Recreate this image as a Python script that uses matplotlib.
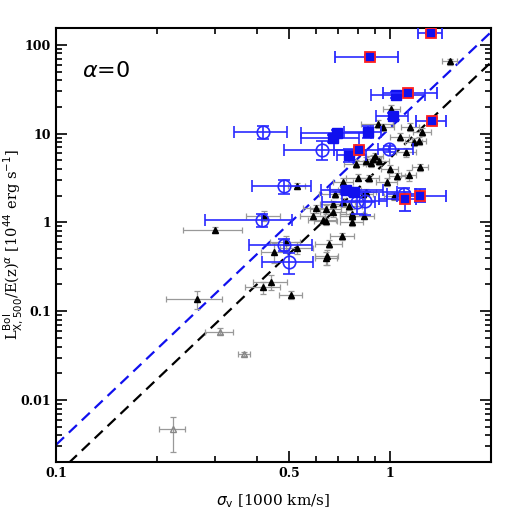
import numpy as np
import matplotlib
matplotlib.use("Agg")
import matplotlib.pyplot as plt
from matplotlib.ticker import FixedLocator, NullFormatter, LogLocator

# black triangles (sigma_v, L, xerr, yerr)
tri_x = [1.51, 1.01, 0.92, 0.95, 1.15, 1.25, 1.07, 1.18, 1.22, 1.12,
         0.79, 0.85, 0.89, 0.90, 0.93, 0.88, 1.00, 1.23, 1.14, 1.05,
         0.80, 0.98, 0.525, 0.724, 0.866, 0.716, 0.76, 0.685, 0.847, 1.03,
         0.724, 0.676, 0.645, 0.676, 0.60, 0.63, 0.643, 0.588, 0.77, 0.77,
         0.77, 0.836, 0.756, 0.42, 0.30, 0.72, 0.487, 0.528, 0.45, 0.658,
         0.648, 0.645, 0.44, 0.417, 0.505, 0.264, 0.83]
tri_y = [65, 19, 12.8, 11.8, 12.0, 10.5, 9.2, 8.1, 8.3, 6.2,
         4.6, 4.95, 5.2, 5.55, 4.95, 4.7, 4.0, 4.2, 3.4, 3.3,
         3.2, 2.85, 2.55, 2.87, 3.13, 2.37, 2.33, 2.07, 2.18, 2.0,
         1.68, 1.61, 1.41, 1.30, 1.44, 1.07, 1.03, 1.17, 1.26, 1.17,
         1.02, 1.19, 1.54, 1.19, 0.82, 0.70, 0.595, 0.52, 0.47, 0.57,
         0.414, 0.40, 0.214, 0.185, 0.153, 0.137, 2.08]
tri_xe = [0.08, 0.06, 0.10, 0.08, 0.07, 0.08, 0.07, 0.07, 0.06, 0.08,
          0.06, 0.06, 0.05, 0.05, 0.06, 0.05, 0.06, 0.07, 0.06, 0.06,
          0.06, 0.07, 0.03, 0.05, 0.06, 0.06, 0.06, 0.07, 0.06, 0.07,
          0.06, 0.06, 0.07, 0.06, 0.05, 0.06, 0.05, 0.05, 0.06, 0.06,
          0.06, 0.06, 0.07, 0.05, 0.06, 0.06, 0.05, 0.06, 0.04, 0.06,
          0.05, 0.05, 0.05, 0.05, 0.04, 0.05, 0.06]
tri_ye = [5, 2, 1.3, 1.2, 1.2, 1.0, 1.0, 0.8, 0.8, 0.7,
          0.5, 0.5, 0.5, 0.5, 0.5, 0.5, 0.4, 0.4, 0.5, 0.3,
          0.3, 0.3, 0.2, 0.3, 0.3, 0.2, 0.2, 0.2, 0.2, 0.2,
          0.2, 0.15, 0.15, 0.15, 0.15, 0.1, 0.1, 0.1, 0.15, 0.1,
          0.12, 0.1, 0.15, 0.15, 0.06, 0.06, 0.1, 0.08, 0.12, 0.06,
          0.08, 0.07, 0.04, 0.03, 0.015, 0.03, 0.2]

# gray open triangles
gtri_x = [0.309, 0.366, 0.224]
gtri_y = [0.059, 0.033, 0.0047]
gtri_xe = [0.03, 0.015, 0.02]
gtri_ylo = [0.004, 0.002, 0.0021]
gtri_yhi = [0.005, 0.002, 0.0018]

# blue open circles
circ_x = [0.417, 0.627, 0.993, 0.482, 0.794, 0.84, 1.10, 0.415, 0.483, 0.499]
circ_y = [10.4, 6.6, 6.7, 2.55, 1.71, 1.75, 2.08, 1.06, 0.555, 0.354]
circ_xlo = [0.075, 0.147, 0.073, 0.095, 0.17, 0.12, 0.12, 0.136, 0.104, 0.086]
circ_xhi = [0.073, 0.163, 0.177, 0.098, 0.11, 0.14, 0.10, 0.095, 0.101, 0.089]
circ_ylo = [1.6, 1.6, 0.5, 0.45, 0.45, 0.55, 0.3, 0.18, 0.08, 0.09]
circ_yhi = [1.9, 1.6, 0.5, 0.45, 0.4, 0.45, 0.35, 0.19, 0.1, 0.1]

# blue filled squares
sq_x = [1.04, 1.02, 0.693, 0.676, 0.857, 0.755, 0.74, 0.78]
sq_y = [27.2, 15.7, 10.1, 8.9, 10.5, 5.8, 2.3, 2.2]
sq_xlo = [0.16, 0.11, 0.153, 0.136, 0.127, 0.06, 0.12, 0.12]
sq_xhi = [0.23, 0.11, 0.187, 0.134, 0.083, 0.09, 0.21, 0.27]
sq_ylo = [2.0, 1.2, 0.8, 0.8, 1.5, 1.0, 0.2, 0.2]
sq_yhi = [2.0, 1.2, 0.8, 0.8, 1.7, 1.0, 0.2, 0.2]

# blue squares with red edge
rsq_x = [1.324, 0.869, 1.13, 1.34, 0.809, 1.11, 1.23]
rsq_y = [136, 73.6, 28.5, 14.0, 6.5, 1.83, 2.0]
rsq_xlo = [0.114, 0.185, 0.18, 0.14, 0.13, 0.18, 0.18]
rsq_xhi = [0.106, 0.186, 0.25, 0.13, 0.19, 0.09, 0.24]
rsq_ylo = [5, 4, 2, 1.0, 0.6, 0.5, 0.3]
rsq_yhi = [5, 4, 2, 1.0, 0.6, 0.4, 0.4]

# fit lines L = A * sigma^B
fit_slope = 3.57
fit_norm_black = 5.3
fit_norm_blue = 11.6

fig = plt.figure(figsize=(5.18, 5.18), dpi=100)
ax = fig.add_axes([0.108, 0.108, 0.839, 0.838])

xs = np.array([0.1, 2.0])
ax.plot(xs, fit_norm_black * xs ** fit_slope, color="black", ls=(0, (5, 3)), lw=1.6, zorder=2)
ax.plot(xs, fit_norm_blue * xs ** fit_slope, color="#1010ee", ls=(0, (5, 3)), lw=1.6, zorder=2)

ax.errorbar(tri_x, tri_y, xerr=tri_xe, yerr=tri_ye, fmt="^", ms=4.2, color="black",
            ecolor="#999999", elinewidth=0.9, capsize=2.5, capthick=0.9, zorder=3)
ax.errorbar(gtri_x, gtri_y, xerr=gtri_xe, yerr=[gtri_ylo, gtri_yhi], fmt="^", ms=4,
            mfc="none", mec="#888888", ecolor="#999999", elinewidth=0.9, capsize=2.5,
            capthick=0.9, zorder=3)
ax.errorbar(circ_x, circ_y, xerr=[circ_xlo, circ_xhi], yerr=[circ_ylo, circ_yhi], fmt="o",
            ms=9, mfc="none", mec="#2a2aff", mew=1.2, ecolor="#2a2aff", elinewidth=1.2,
            capsize=4, capthick=1.2, zorder=4)
ax.errorbar(sq_x, sq_y, xerr=[sq_xlo, sq_xhi], yerr=[sq_ylo, sq_yhi], fmt="s", ms=6.5,
            mfc="#1010ee", mec="#1010ee", ecolor="#2a2aff", elinewidth=1.2,
            capsize=4, capthick=1.2, zorder=4)
ax.errorbar(rsq_x, rsq_y, xerr=[rsq_xlo, rsq_xhi], yerr=[rsq_ylo, rsq_yhi], fmt="s", ms=7,
            mfc="#1010ee", mec="#ff2020", mew=1.3, ecolor="#2a2aff", elinewidth=1.2,
            capsize=4, capthick=1.2, zorder=5)

ax.set_xscale("log")
ax.set_yscale("log")
ax.set_xlim(0.1, 2.0)
ax.set_ylim(0.002, 155)

ax.xaxis.set_major_locator(FixedLocator([0.1, 0.5, 1]))
ax.set_xticklabels(["0.1", "0.5", "1"])
ax.xaxis.set_minor_locator(FixedLocator([0.2, 0.3, 0.4, 0.6, 0.7, 0.8, 0.9, 2.0]))
ax.xaxis.set_minor_formatter(NullFormatter())
ax.yaxis.set_major_locator(FixedLocator([0.01, 0.1, 1, 10, 100]))
ax.set_yticklabels(["0.01", "0.1", "1", "10", "100"])
ax.yaxis.set_minor_locator(LogLocator(base=10, subs=np.arange(2, 10)))
ax.yaxis.set_minor_formatter(NullFormatter())

ax.tick_params(which="both", direction="in", top=True, right=True, width=1.2)
ax.tick_params(which="major", length=8)
ax.tick_params(which="minor", length=4)
for lab in ax.get_xticklabels() + ax.get_yticklabels():
    lab.set_fontfamily("DejaVu Serif")
    lab.set_fontweight("bold")
    lab.set_fontsize(9)
for sp in ax.spines.values():
    sp.set_linewidth(1.5)

ax.set_xlabel(r"$\sigma_{\rm v}$ [1000 km/s]", fontsize=11, family="DejaVu Serif")
ax.xaxis.set_label_coords(0.5, -0.07)
ax.set_ylabel(r"L$^{\rm Bol}_{\rm X,500}$/E(z)$^{\alpha}$ [10$^{44}$ erg s$^{-1}$]",
              fontsize=10.5, family="DejaVu Serif")
ax.yaxis.set_label_coords(-0.072, 0.5)
ax.text(0.06, 0.90, r"$\alpha$=0", transform=ax.transAxes, fontsize=16, va="center")

fig.savefig("out.png", dpi=100)
